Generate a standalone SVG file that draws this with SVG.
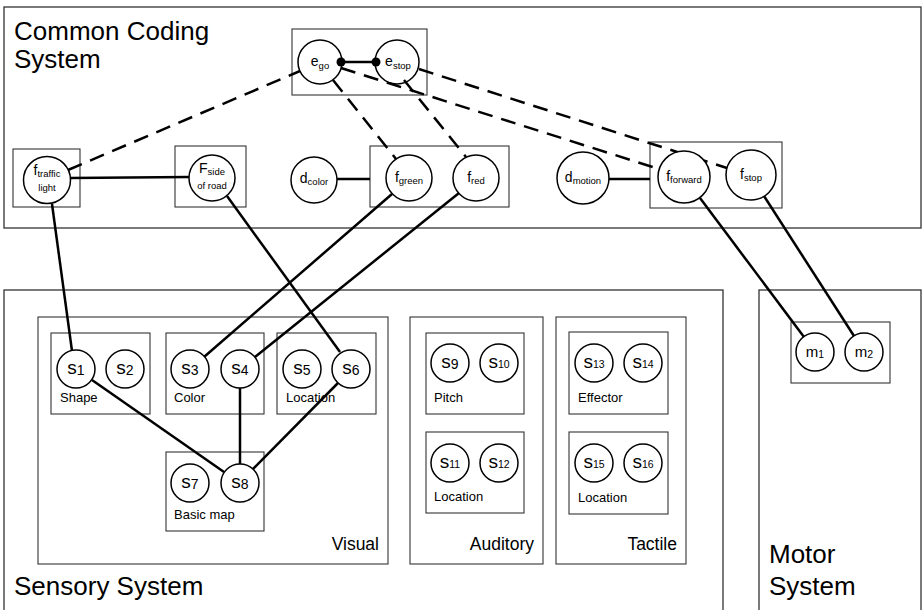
<svg xmlns="http://www.w3.org/2000/svg" width="922" height="610" viewBox="0 0 922 610">
<style>
  text { font-family: "Liberation Sans", Arial, sans-serif; fill: #000; }
  .sys { fill: none; stroke: #333; stroke-width: 1.3; }
  .box { fill: none; stroke: #333; stroke-width: 1.1; }
  .node { fill: #fff; stroke: #000; stroke-width: 1.5; }
  .title { font-size: 26px; }
  .mod { font-size: 17.5px; text-anchor: end; }
  .lab { font-size: 13px; }
  .c { text-anchor: middle; }
  .fm { font-size: 14px; }
  .fs { font-size: 9.5px; }
  .sm { font-size: 19px; }
  .ss { font-size: 14px; }
  .ss2 { font-size: 10.5px; }
  .mm { font-size: 15px; }
  .solid { fill: none; stroke: #000; stroke-width: 2.5; }
  .dash { fill: none; stroke: #000; stroke-width: 2.5; stroke-dasharray: 15 9; }
</style>

<!-- System containers -->
<g id="common-coding-system">
  <rect class="sys" x="4" y="7" width="917" height="221"/>
  <text class="title" x="14" y="40">Common Coding</text>
  <text class="title" x="14" y="68">System</text>
</g>
<g id="sensory-system">
  <rect class="sys" x="4" y="290" width="719" height="330"/>
  <text class="title" x="14" y="595">Sensory System</text>
</g>
<g id="motor-system">
  <rect class="sys" x="759" y="290" width="162" height="330"/>
  <text class="title" x="769" y="563">Motor</text>
  <text class="title" x="769" y="595">System</text>
</g>

<!-- Modality and feature boxes -->
<g id="visual">
  <rect class="box" x="38" y="317" width="350" height="247"/>
  <text class="mod" x="379" y="550">Visual</text>
</g>
<g id="auditory">
  <rect class="box" x="410" y="317" width="133" height="247"/>
  <text class="mod" x="534" y="550">Auditory</text>
</g>
<g id="tactile">
  <rect class="box" x="556" y="317" width="130" height="247"/>
  <text class="mod" x="677" y="550">Tactile</text>
</g>
<g id="shape-box">
  <rect class="box" x="51" y="333" width="99" height="81"/>
  <text class="lab" x="60" y="402">Shape</text>
</g>
<g id="color-box">
  <rect class="box" x="166" y="333" width="98" height="81"/>
  <text class="lab" x="174" y="402">Color</text>
</g>
<g id="location-box">
  <rect class="box" x="277" y="333" width="99" height="81"/>
  <text class="lab" x="286" y="402">Location</text>
</g>
<g id="basicmap-box">
  <rect class="box" x="166" y="452" width="98" height="79"/>
  <text class="lab" x="174" y="519">Basic map</text>
</g>
<g id="pitch-box">
  <rect class="box" x="426" y="333" width="98" height="81"/>
  <text class="lab" x="434" y="402">Pitch</text>
</g>
<g id="aud-location-box">
  <rect class="box" x="426" y="432" width="98" height="81"/>
  <text class="lab" x="434" y="501">Location</text>
</g>
<g id="effector-box">
  <rect class="box" x="569" y="332" width="99" height="82"/>
  <text class="lab" x="578" y="402">Effector</text>
</g>
<g id="tac-location-box">
  <rect class="box" x="569" y="432" width="99" height="82"/>
  <text class="lab" x="578" y="502">Location</text>
</g>
<g id="motor-box">
  <rect class="box" x="791" y="322" width="99" height="61"/>
</g>
<g id="e-box"><rect class="box" x="292" y="29" width="135" height="66"/></g>
<g id="traffic-box"><rect class="box" x="13" y="149" width="67" height="58"/></g>
<g id="side-box"><rect class="box" x="175" y="146" width="71" height="61"/></g>
<g id="color-f-box"><rect class="box" x="370" y="146" width="139" height="61"/></g>
<g id="motion-f-box"><rect class="box" x="650" y="142" width="132" height="66"/></g>

<!-- Connectors -->
<g id="connectors">
  <line class="solid" x1="341" y1="62" x2="376" y2="62"/>
  <line class="solid" x1="70" y1="178" x2="189" y2="177"/>
  <line class="solid" x1="337" y1="179" x2="370" y2="179"/>
  <line class="solid" x1="609" y1="179" x2="650" y2="179"/>
  <line class="solid" x1="52" y1="204" x2="72" y2="351"/>
  <line class="solid" x1="227" y1="196" x2="340" y2="352"/>
  <line class="solid" x1="392" y1="194" x2="204" y2="357"/>
  <line class="solid" x1="459" y1="193" x2="255" y2="357"/>
  <line class="solid" x1="700" y1="198" x2="804" y2="337"/>
  <line class="solid" x1="764" y1="196" x2="854" y2="336"/>
  <line class="solid" x1="92" y1="380" x2="224" y2="472"/>
  <line class="solid" x1="240" y1="388" x2="240" y2="464"/>
  <line class="solid" x1="338" y1="383" x2="253" y2="469"/>
  <line class="dash" x1="68" y1="170" x2="300" y2="71"/>
  <line class="dash" x1="333" y1="80" x2="396" y2="159"/>
  <line class="dash" x1="341" y1="68" x2="659" y2="169"/>
  <line class="dash" x1="404" y1="80" x2="466" y2="157"/>
  <line class="dash" x1="419" y1="69" x2="727" y2="168"/>
  <circle cx="341" cy="62" r="4.5" fill="#000"/>
  <circle cx="376" cy="62" r="4.5" fill="#000"/>
</g>

<!-- Common coding nodes -->
<g id="e_go"><circle class="node" cx="320" cy="62" r="22" fill-opacity="0"/>
  <text class="c" x="320" y="66"><tspan class="fm">e</tspan><tspan class="fs" dy="3">go</tspan></text></g>
<g id="e_stop"><circle class="node" cx="397" cy="62" r="22" fill-opacity="0"/>
  <text class="c" x="398" y="66"><tspan class="fm">e</tspan><tspan class="fs" dy="3">stop</tspan></text></g>
<g id="f_traffic"><circle class="node" cx="47" cy="180" r="23.5"/>
  <text class="c" x="47" y="175"><tspan class="fm">f</tspan><tspan class="fs" dy="2">traffic</tspan></text>
  <text class="c fs" x="47" y="191">light</text></g>
<g id="F_side"><circle class="node" cx="212" cy="178" r="23"/>
  <text class="c" x="212" y="173"><tspan class="fm">F</tspan><tspan class="fs" dy="2">side</tspan></text>
  <text class="c fs" x="212" y="189">of road</text></g>
<g id="d_color"><circle class="node" cx="314" cy="180" r="23"/>
  <text class="c" x="314" y="183"><tspan class="fm">d</tspan><tspan class="fs" dy="2">color</tspan></text></g>
<g id="f_green"><circle class="node" cx="409" cy="178" r="23"/>
  <text class="c" x="409" y="182"><tspan class="fm">f</tspan><tspan class="fs" dy="2">green</tspan></text></g>
<g id="f_red"><circle class="node" cx="476" cy="178" r="23"/>
  <text class="c" x="476" y="182"><tspan class="fm">f</tspan><tspan class="fs" dy="2">red</tspan></text></g>
<g id="d_motion"><circle class="node" cx="583" cy="178" r="26"/>
  <text class="c" x="583" y="182"><tspan class="fm">d</tspan><tspan class="fs" dy="2">motion</tspan></text></g>
<g id="f_forward"><circle class="node" cx="684" cy="177" r="26"/>
  <text class="c" x="684" y="181"><tspan class="fm">f</tspan><tspan class="fs" dy="2">forward</tspan></text></g>
<g id="f_stop"><circle class="node" cx="751" cy="175" r="25"/>
  <text class="c" x="751" y="179"><tspan class="fm">f</tspan><tspan class="fs" dy="2">stop</tspan></text></g>

<!-- Sensory nodes -->
<g id="s1"><circle class="node" cx="76" cy="369" r="19"/>
  <text class="c" x="76" y="374"><tspan class="sm">s</tspan><tspan class="ss" dy="1">1</tspan></text></g>
<g id="s2"><circle class="node" cx="125" cy="369" r="19"/>
  <text class="c" x="125" y="374"><tspan class="sm">s</tspan><tspan class="ss" dy="1">2</tspan></text></g>
<g id="s3"><circle class="node" cx="190" cy="369" r="19"/>
  <text class="c" x="190" y="374"><tspan class="sm">s</tspan><tspan class="ss" dy="1">3</tspan></text></g>
<g id="s4"><circle class="node" cx="240" cy="369" r="19"/>
  <text class="c" x="240" y="374"><tspan class="sm">s</tspan><tspan class="ss" dy="1">4</tspan></text></g>
<g id="s5"><circle class="node" cx="302" cy="369" r="19"/>
  <text class="c" x="302" y="374"><tspan class="sm">s</tspan><tspan class="ss" dy="1">5</tspan></text></g>
<g id="s6"><circle class="node" cx="351" cy="369" r="19"/>
  <text class="c" x="351" y="374"><tspan class="sm">s</tspan><tspan class="ss" dy="1">6</tspan></text></g>
<g id="s7"><circle class="node" cx="190" cy="483" r="19"/>
  <text class="c" x="190" y="488"><tspan class="sm">s</tspan><tspan class="ss" dy="1">7</tspan></text></g>
<g id="s8"><circle class="node" cx="240" cy="483" r="19"/>
  <text class="c" x="240" y="488"><tspan class="sm">s</tspan><tspan class="ss" dy="1">8</tspan></text></g>
<g id="s9"><circle class="node" cx="450" cy="363" r="19"/>
  <text class="c" x="450" y="368"><tspan class="sm">s</tspan><tspan class="ss" dy="1" font-size="13">9</tspan></text></g>
<g id="s10"><circle class="node" cx="499" cy="363" r="19"/>
  <text class="c" x="499" y="368"><tspan class="sm">s</tspan><tspan class="ss2" dy="0">10</tspan></text></g>
<g id="s11"><circle class="node" cx="450" cy="463" r="19"/>
  <text class="c" x="450" y="468"><tspan class="sm">s</tspan><tspan class="ss2" dy="0">11</tspan></text></g>
<g id="s12"><circle class="node" cx="499" cy="463" r="19"/>
  <text class="c" x="499" y="468"><tspan class="sm">s</tspan><tspan class="ss2" dy="0">12</tspan></text></g>
<g id="s13"><circle class="node" cx="594" cy="363" r="19"/>
  <text class="c" x="594" y="368"><tspan class="sm">s</tspan><tspan class="ss2" dy="0">13</tspan></text></g>
<g id="s14"><circle class="node" cx="643" cy="363" r="19"/>
  <text class="c" x="643" y="368"><tspan class="sm">s</tspan><tspan class="ss2" dy="0">14</tspan></text></g>
<g id="s15"><circle class="node" cx="594" cy="463" r="19"/>
  <text class="c" x="594" y="468"><tspan class="sm">s</tspan><tspan class="ss2" dy="0">15</tspan></text></g>
<g id="s16"><circle class="node" cx="643" cy="463" r="19"/>
  <text class="c" x="643" y="468"><tspan class="sm">s</tspan><tspan class="ss2" dy="0">16</tspan></text></g>

<!-- Motor nodes -->
<g id="m1"><circle class="node" cx="815" cy="352" r="19"/>
  <text class="c" x="815" y="357"><tspan class="mm">m</tspan><tspan class="ss2" dy="1">1</tspan></text></g>
<g id="m2"><circle class="node" cx="864" cy="352" r="19"/>
  <text class="c" x="864" y="357"><tspan class="mm">m</tspan><tspan class="ss2" dy="1">2</tspan></text></g>
</svg>
